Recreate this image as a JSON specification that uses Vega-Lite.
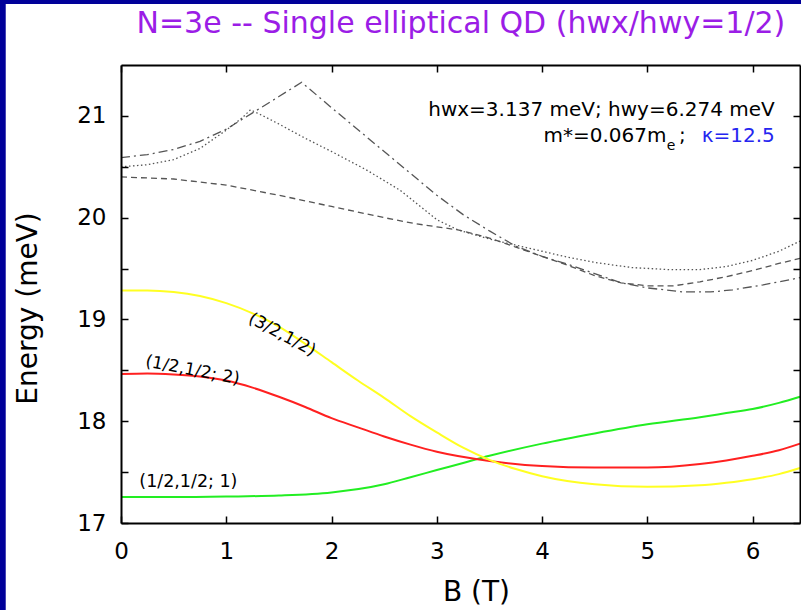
{
  "$schema": "https://vega.github.io/schema/vega-lite/v6.json",
  "width": 679,
  "height": 458,
  "autosize": {"type": "none"},
  "padding": {"left": 121, "top": 65, "right": 1, "bottom": 87},
  "background": "#000099",
  "config": {
    "view": {"stroke": null},
    "axis": {"grid": false}
  },
  "datasets": {
    "colored": [
      {"curve": "(1/2,1/2; 1)", "B": 0, "E": 17.255},
      {"curve": "(1/2,1/2; 1)", "B": 0.5, "E": 17.255},
      {"curve": "(1/2,1/2; 1)", "B": 1.0, "E": 17.26},
      {"curve": "(1/2,1/2; 1)", "B": 1.5, "E": 17.27},
      {"curve": "(1/2,1/2; 1)", "B": 2.0, "E": 17.3},
      {"curve": "(1/2,1/2; 1)", "B": 2.5, "E": 17.38},
      {"curve": "(1/2,1/2; 1)", "B": 2.75, "E": 17.45},
      {"curve": "(1/2,1/2; 1)", "B": 3.0, "E": 17.52},
      {"curve": "(1/2,1/2; 1)", "B": 3.25, "E": 17.59},
      {"curve": "(1/2,1/2; 1)", "B": 3.5, "E": 17.66},
      {"curve": "(1/2,1/2; 1)", "B": 4.0, "E": 17.78},
      {"curve": "(1/2,1/2; 1)", "B": 4.5, "E": 17.88},
      {"curve": "(1/2,1/2; 1)", "B": 5.0, "E": 17.97},
      {"curve": "(1/2,1/2; 1)", "B": 5.5, "E": 18.04},
      {"curve": "(1/2,1/2; 1)", "B": 5.75, "E": 18.08},
      {"curve": "(1/2,1/2; 1)", "B": 6.0, "E": 18.12},
      {"curve": "(1/2,1/2; 1)", "B": 6.25, "E": 18.18},
      {"curve": "(1/2,1/2; 1)", "B": 6.45, "E": 18.24},
      {"curve": "(1/2,1/2; 2)", "B": 0, "E": 18.465},
      {"curve": "(1/2,1/2; 2)", "B": 0.25, "E": 18.47},
      {"curve": "(1/2,1/2; 2)", "B": 0.5, "E": 18.46},
      {"curve": "(1/2,1/2; 2)", "B": 0.75, "E": 18.44},
      {"curve": "(1/2,1/2; 2)", "B": 1.0, "E": 18.4},
      {"curve": "(1/2,1/2; 2)", "B": 1.25, "E": 18.33},
      {"curve": "(1/2,1/2; 2)", "B": 1.5, "E": 18.24},
      {"curve": "(1/2,1/2; 2)", "B": 1.75, "E": 18.14},
      {"curve": "(1/2,1/2; 2)", "B": 2.0, "E": 18.03},
      {"curve": "(1/2,1/2; 2)", "B": 2.25, "E": 17.94},
      {"curve": "(1/2,1/2; 2)", "B": 2.5, "E": 17.85},
      {"curve": "(1/2,1/2; 2)", "B": 2.75, "E": 17.77},
      {"curve": "(1/2,1/2; 2)", "B": 3.0, "E": 17.7},
      {"curve": "(1/2,1/2; 2)", "B": 3.5, "E": 17.61},
      {"curve": "(1/2,1/2; 2)", "B": 4.0, "E": 17.56},
      {"curve": "(1/2,1/2; 2)", "B": 4.5, "E": 17.545},
      {"curve": "(1/2,1/2; 2)", "B": 5.0, "E": 17.545},
      {"curve": "(1/2,1/2; 2)", "B": 5.5, "E": 17.58},
      {"curve": "(1/2,1/2; 2)", "B": 5.75, "E": 17.615},
      {"curve": "(1/2,1/2; 2)", "B": 6.0, "E": 17.66},
      {"curve": "(1/2,1/2; 2)", "B": 6.25, "E": 17.715},
      {"curve": "(1/2,1/2; 2)", "B": 6.45, "E": 17.78},
      {"curve": "(3/2,1/2)", "B": 0, "E": 19.285},
      {"curve": "(3/2,1/2)", "B": 0.25, "E": 19.285},
      {"curve": "(3/2,1/2)", "B": 0.5, "E": 19.27},
      {"curve": "(3/2,1/2)", "B": 0.75, "E": 19.23},
      {"curve": "(3/2,1/2)", "B": 1.0, "E": 19.16},
      {"curve": "(3/2,1/2)", "B": 1.25, "E": 19.06},
      {"curve": "(3/2,1/2)", "B": 1.5, "E": 18.93},
      {"curve": "(3/2,1/2)", "B": 1.75, "E": 18.76},
      {"curve": "(3/2,1/2)", "B": 2.0, "E": 18.58},
      {"curve": "(3/2,1/2)", "B": 2.25, "E": 18.4},
      {"curve": "(3/2,1/2)", "B": 2.5, "E": 18.23},
      {"curve": "(3/2,1/2)", "B": 2.75, "E": 18.05},
      {"curve": "(3/2,1/2)", "B": 3.0, "E": 17.89},
      {"curve": "(3/2,1/2)", "B": 3.25, "E": 17.74},
      {"curve": "(3/2,1/2)", "B": 3.5, "E": 17.62},
      {"curve": "(3/2,1/2)", "B": 3.75, "E": 17.53},
      {"curve": "(3/2,1/2)", "B": 4.0, "E": 17.46},
      {"curve": "(3/2,1/2)", "B": 4.5, "E": 17.38},
      {"curve": "(3/2,1/2)", "B": 5.0, "E": 17.355},
      {"curve": "(3/2,1/2)", "B": 5.5, "E": 17.37},
      {"curve": "(3/2,1/2)", "B": 5.75, "E": 17.395},
      {"curve": "(3/2,1/2)", "B": 6.0, "E": 17.43},
      {"curve": "(3/2,1/2)", "B": 6.25, "E": 17.48},
      {"curve": "(3/2,1/2)", "B": 6.45, "E": 17.54}
    ],
    "gray": [
      {"curve": "level 4", "B": 0, "E": 20.4},
      {"curve": "level 4", "B": 0.5, "E": 20.38},
      {"curve": "level 4", "B": 1.0, "E": 20.32},
      {"curve": "level 4", "B": 1.5, "E": 20.22},
      {"curve": "level 4", "B": 2.0, "E": 20.11},
      {"curve": "level 4", "B": 2.5, "E": 20.0},
      {"curve": "level 4", "B": 2.8, "E": 19.94},
      {"curve": "level 4", "B": 3.0, "E": 19.91},
      {"curve": "level 4", "B": 3.2, "E": 19.88},
      {"curve": "level 4", "B": 3.5, "E": 19.8},
      {"curve": "level 4", "B": 3.75, "E": 19.71},
      {"curve": "level 4", "B": 4.0, "E": 19.62},
      {"curve": "level 4", "B": 4.25, "E": 19.53},
      {"curve": "level 4", "B": 4.5, "E": 19.43},
      {"curve": "level 4", "B": 4.75, "E": 19.36},
      {"curve": "level 4", "B": 5.0, "E": 19.33},
      {"curve": "level 4", "B": 5.25, "E": 19.33},
      {"curve": "level 4", "B": 5.5, "E": 19.37},
      {"curve": "level 4", "B": 5.75, "E": 19.42},
      {"curve": "level 4", "B": 6.0, "E": 19.48},
      {"curve": "level 4", "B": 6.25, "E": 19.55},
      {"curve": "level 4", "B": 6.45, "E": 19.6},
      {"curve": "level 5", "B": 0, "E": 20.5},
      {"curve": "level 5", "B": 0.25, "E": 20.52},
      {"curve": "level 5", "B": 0.5, "E": 20.57},
      {"curve": "level 5", "B": 0.75, "E": 20.68},
      {"curve": "level 5", "B": 1.0, "E": 20.86},
      {"curve": "level 5", "B": 1.15, "E": 20.98},
      {"curve": "level 5", "B": 1.23, "E": 21.06},
      {"curve": "level 5", "B": 1.35, "E": 21.0},
      {"curve": "level 5", "B": 1.5, "E": 20.92},
      {"curve": "level 5", "B": 1.75, "E": 20.78},
      {"curve": "level 5", "B": 2.0, "E": 20.65},
      {"curve": "level 5", "B": 2.33, "E": 20.47},
      {"curve": "level 5", "B": 2.65, "E": 20.27},
      {"curve": "level 5", "B": 3.0, "E": 19.98},
      {"curve": "level 5", "B": 3.2, "E": 19.88},
      {"curve": "level 5", "B": 3.5, "E": 19.79},
      {"curve": "level 5", "B": 3.75, "E": 19.73},
      {"curve": "level 5", "B": 4.0, "E": 19.67},
      {"curve": "level 5", "B": 4.25, "E": 19.61},
      {"curve": "level 5", "B": 4.5, "E": 19.56},
      {"curve": "level 5", "B": 4.85, "E": 19.51},
      {"curve": "level 5", "B": 5.2, "E": 19.49},
      {"curve": "level 5", "B": 5.5, "E": 19.49},
      {"curve": "level 5", "B": 5.75, "E": 19.52},
      {"curve": "level 5", "B": 6.0, "E": 19.58},
      {"curve": "level 5", "B": 6.25, "E": 19.67},
      {"curve": "level 5", "B": 6.45, "E": 19.77},
      {"curve": "level 6", "B": 0, "E": 20.59},
      {"curve": "level 6", "B": 0.25, "E": 20.62},
      {"curve": "level 6", "B": 0.5, "E": 20.67},
      {"curve": "level 6", "B": 0.75, "E": 20.75},
      {"curve": "level 6", "B": 1.0, "E": 20.87},
      {"curve": "level 6", "B": 1.25, "E": 21.03},
      {"curve": "level 6", "B": 1.5, "E": 21.19},
      {"curve": "level 6", "B": 1.716, "E": 21.33},
      {"curve": "level 6", "B": 2.0, "E": 21.08},
      {"curve": "level 6", "B": 2.5, "E": 20.65},
      {"curve": "level 6", "B": 3.0, "E": 20.22},
      {"curve": "level 6", "B": 3.25, "E": 20.03},
      {"curve": "level 6", "B": 3.5, "E": 19.87},
      {"curve": "level 6", "B": 3.75, "E": 19.72},
      {"curve": "level 6", "B": 4.0, "E": 19.62},
      {"curve": "level 6", "B": 4.25, "E": 19.54},
      {"curve": "level 6", "B": 4.5, "E": 19.45},
      {"curve": "level 6", "B": 4.75, "E": 19.36},
      {"curve": "level 6", "B": 5.0, "E": 19.31},
      {"curve": "level 6", "B": 5.34, "E": 19.27},
      {"curve": "level 6", "B": 5.6, "E": 19.27},
      {"curve": "level 6", "B": 5.81, "E": 19.29},
      {"curve": "level 6", "B": 6.1, "E": 19.34},
      {"curve": "level 6", "B": 6.45, "E": 19.41}
    ]
  },
  "layer": [
    {
      "data": {"values": [{}]},
      "mark": {"type": "rect", "color": "white"},
      "encoding": {
        "x": {"datum": -1.095, "type": "quantitative", "scale": {"domain": [0, 6.45], "nice": false, "zero": false}, "axis": null},
        "x2": {"datum": 7.2},
        "y": {"datum": 15.8, "type": "quantitative", "scale": {"domain": [17, 21.5], "nice": false, "zero": false}, "axis": null},
        "y2": {"datum": 22.1}
      }
    },
    {
      "data": {"values": [{"label": "N=3e --  Single elliptical QD (hwx/hwy=1/2)", "B": 3.229, "E": 21.81}]},
      "mark": {"type": "text", "font": "DejaVu Sans", "fontSize": 30, "align": "center", "baseline": "alphabetic", "color": "#9b1de6"},
      "encoding": {
        "x": {"field": "B", "type": "quantitative", "axis": null},
        "y": {"field": "E", "type": "quantitative", "axis": null},
        "text": {"field": "label"}
      }
    },
    {
      "data": {"name": "gray"},
      "mark": {"type": "line", "strokeWidth": 1.3, "color": "#555555"},
      "encoding": {
        "x": {"field": "B", "type": "quantitative", "scale": {"domain": [0, 6.45], "nice": false, "zero": false},
          "axis": {"orient": "top", "zindex": 1, "values": [0, 1, 2, 3, 4, 5, 6], "labels": false, "title": null, "tickSize": -7, "tickWidth": 1.5, "tickColor": "black", "domainColor": "black", "domainWidth": 2}},
        "y": {"field": "E", "type": "quantitative", "scale": {"domain": [17, 21.5], "nice": false, "zero": false},
          "axis": {"orient": "right", "zindex": 1, "values": [17, 17.5, 18, 18.5, 19, 19.5, 20, 20.5, 21], "labels": false, "title": null, "tickSize": -7, "tickWidth": 1.5, "tickColor": "black", "domainColor": "black", "domainWidth": 2}},
        "strokeDash": {"field": "curve", "type": "nominal", "scale": {"domain": ["level 4", "level 5", "level 6"], "range": [[6, 4], [1.5, 2.5], [9, 4, 2, 4]]}, "legend": null}
      }
    },
    {
      "data": {"name": "colored"},
      "mark": {"type": "line", "strokeWidth": 2, "interpolate": "monotone"},
      "encoding": {
        "x": {"field": "B", "type": "quantitative", "scale": {"domain": [0, 6.45], "nice": false, "zero": false},
          "axis": {"orient": "bottom", "zindex": 1, "values": [0, 1, 2, 3, 4, 5, 6], "format": "d", "labelFont": "DejaVu Sans", "labelFontSize": 23, "labelColor": "black", "labelPadding": 24, "labelFlush": false, "tickSize": -7, "tickWidth": 1.5, "tickColor": "black", "domainColor": "black", "domainWidth": 2, "title": "B (T)", "titleFont": "DejaVu Sans", "titleFontSize": 28, "titleFontWeight": "normal", "titleColor": "black", "titlePadding": 15, "titleX": 355}},
        "y": {"field": "E", "type": "quantitative", "scale": {"domain": [17, 21.5], "nice": false, "zero": false},
          "axis": {"orient": "left", "zindex": 1, "values": [17, 17.5, 18, 18.5, 19, 19.5, 20, 20.5, 21], "labelExpr": "datum.value % 1 == 0 ? format(datum.value, 'd') : ''", "labelOverlap": false, "labelFlush": false, "labelFont": "DejaVu Sans", "labelFontSize": 23, "labelColor": "black", "labelPadding": 22, "tickSize": -7, "tickWidth": 1.5, "tickColor": "black", "domainColor": "black", "domainWidth": 2, "title": "Energy (meV)", "titleFont": "DejaVu Sans", "titleFontSize": 28, "titleFontWeight": "normal", "titleColor": "black", "titlePadding": 34, "titleY": 243}},
        "color": {"field": "curve", "type": "nominal", "scale": {"domain": ["(1/2,1/2; 1)", "(1/2,1/2; 2)", "(3/2,1/2)"], "range": ["#22ee22", "#ff2020", "#ffff22"]}, "legend": null}
      }
    },
    {
      "data": {"values": [{"label": "(3/2,1/2)", "B": 1.53, "E": 18.85}]},
      "mark": {"type": "text", "font": "DejaVu Sans", "fontSize": 17, "angle": 28, "color": "black"},
      "encoding": {
        "x": {"field": "B", "type": "quantitative", "axis": null},
        "y": {"field": "E", "type": "quantitative", "axis": null},
        "text": {"field": "label"}
      }
    },
    {
      "data": {"values": [{"label": "(1/2,1/2; 2)", "B": 0.68, "E": 18.5}]},
      "mark": {"type": "text", "font": "DejaVu Sans", "fontSize": 17, "angle": 11, "color": "black"},
      "encoding": {
        "x": {"field": "B", "type": "quantitative", "axis": null},
        "y": {"field": "E", "type": "quantitative", "axis": null},
        "text": {"field": "label"}
      }
    },
    {
      "data": {"values": [{"label": "(1/2,1/2; 1)", "B": 0.64, "E": 17.4}]},
      "mark": {"type": "text", "font": "DejaVu Sans", "fontSize": 17.5, "color": "black"},
      "encoding": {
        "x": {"field": "B", "type": "quantitative", "axis": null},
        "y": {"field": "E", "type": "quantitative", "axis": null},
        "text": {"field": "label"}
      }
    },
    {
      "data": {"values": [
        {"label": "hwx=3.137 meV; hwy=6.274 meV", "B": 6.21, "E": 21.0},
        {"label": "m*=0.067m", "B": 5.182, "E": 20.74}
      ]},
      "mark": {"type": "text", "font": "DejaVu Sans", "fontSize": 20, "align": "right", "baseline": "alphabetic", "color": "black"},
      "encoding": {
        "x": {"field": "B", "type": "quantitative", "axis": null},
        "y": {"field": "E", "type": "quantitative", "axis": null},
        "text": {"field": "label"}
      }
    },
    {
      "data": {"values": [{"label": "e", "B": 5.185, "E": 20.66}]},
      "mark": {"type": "text", "font": "DejaVu Sans", "fontSize": 14, "align": "left", "baseline": "alphabetic", "color": "black"},
      "encoding": {
        "x": {"field": "B", "type": "quantitative", "axis": null},
        "y": {"field": "E", "type": "quantitative", "axis": null},
        "text": {"field": "label"}
      }
    },
    {
      "data": {"values": [{"label": ";", "B": 5.3, "E": 20.74}]},
      "mark": {"type": "text", "font": "DejaVu Sans", "fontSize": 20, "align": "left", "baseline": "alphabetic", "color": "black"},
      "encoding": {
        "x": {"field": "B", "type": "quantitative", "axis": null},
        "y": {"field": "E", "type": "quantitative", "axis": null},
        "text": {"field": "label"}
      }
    },
    {
      "data": {"values": [{"label": "κ=12.5", "B": 6.21, "E": 20.74}]},
      "mark": {"type": "text", "font": "DejaVu Sans", "fontSize": 20, "align": "right", "baseline": "alphabetic", "color": "#2525f0"},
      "encoding": {
        "x": {"field": "B", "type": "quantitative", "axis": null},
        "y": {"field": "E", "type": "quantitative", "axis": null},
        "text": {"field": "label"}
      }
    }
  ],
  "resolve": {"axis": {"x": "independent", "y": "independent"}}
}
